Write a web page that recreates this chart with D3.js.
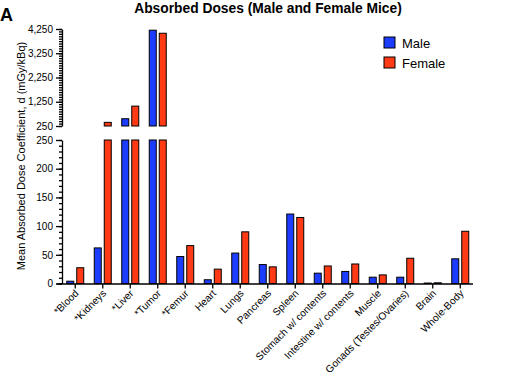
<!DOCTYPE html>
<html>
<head>
<meta charset="utf-8">
<script src="https://cdn.jsdelivr.net/npm/d3@7"></script>
<style>
  body { margin: 0; background: #fff; }
  svg { font-family: "Liberation Sans", Arial, sans-serif; }
</style>
</head>
<body>
<svg id="chart" width="530" height="391"></svg>
<script>
// organs (x categories)
const organs = ["*Blood", "*Kidneys", "*Liver", "*Tumor", "*Femur", "Heart", "Lungs", "Pancreas", "Spleen",
    "Stomach w/ contents", "Intestine w/ contents", "Muscle", "Gonads (Testes/Ovaries)", "Brain", "Whole-Body"];
// mean absorbed dose coefficient, mGy/kBq
const male   = [4, 62, 550, 4200, 47, 6.5, 53, 33, 121, 18, 21, 11, 11, 0.8, 43];
const female = [27.5, 400, 1070, 4075, 66, 25, 90, 29, 115, 30.5, 34, 15, 44, 1.2, 91];
const series = ["Male", "Female"];
const colors = ["#1c3cff", "#ff3a14"];
const lowTicks = [0, 50, 100, 150, 200, 250];
const highTicks = [250, 1250, 2250, 3250, 4250];
const breakAt = 250;

const svg = d3.select("#chart");

const x = d3.scaleBand().domain(organs).range([61.5, 474]);
const yLow = d3.scaleLinear().domain([0, 250]).range([283.5, 140]);
const yHigh = d3.scaleLinear().domain([250, 4250]).range([126, 29]);
const bw = 7;

// bars
const rows = organs.map((o, i) => ({organ: o, vals: [male[i], female[i]]}));
const g = svg.append("g");
rows.forEach(r => {
    r.vals.forEach((v, s) => {
        const cx = x(r.organ) + x.bandwidth() / 2;
        const bx = s === 0 ? cx - 8.5 : cx + 1.5;
        g.append("rect")
            .attr("x", bx).attr("width", bw)
            .attr("y", yLow(Math.min(v, breakAt)))
            .attr("height", yLow(0) - yLow(Math.min(v, breakAt)))
            .attr("fill", colors[s]).attr("stroke", "#000").attr("stroke-width", 1);
        if (v > breakAt) {
            g.append("rect")
                .attr("x", bx).attr("width", bw)
                .attr("y", yHigh(v))
                .attr("height", yHigh(breakAt) - yHigh(v))
                .attr("fill", colors[s]).attr("stroke", "#000").attr("stroke-width", 1);
        }
    });
});

// y axes (minor ticks + major ticks with labels)
function yAxis(scale, majors, minorStep) {
    const ax = svg.append("g").attr("transform", "translate(62,0)");
    const [d0, d1] = scale.domain();
    ax.append("g")
        .call(d3.axisLeft(scale).tickValues(d3.range(d0, d1 + 0.1, minorStep)).tickSize(3).tickFormat(""))
        .call(a => a.select(".domain").remove());
    ax.append("g")
        .call(d3.axisLeft(scale).tickValues(majors).tickSize(6).tickSizeOuter(0).tickPadding(3).tickFormat(d3.format(",")))
        .call(a => a.selectAll("text").attr("font-size", 10).attr("fill", "#000"));
    ax.selectAll("line, path").attr("stroke", "#000").attr("stroke-width", 1.3);
}
yAxis(yLow, lowTicks, 10);
yAxis(yHigh, highTicks, 100);

// x axis
const xa = svg.append("g").attr("transform", "translate(0,283.5)")
    .call(d3.axisBottom(x).tickSize(5).tickSizeOuter(0).tickFormat(""));
xa.selectAll("line, path").attr("stroke", "#000").attr("stroke-width", 1.3);
xa.select(".domain").attr("d", "M56.5,0.5H473");

svg.append("g").selectAll("text").data(organs).join("text")
    .attr("transform", d => `translate(${x(d) + x.bandwidth() / 2 + 4},294) rotate(-45)`)
    .attr("text-anchor", "end").attr("font-size", 10.2).attr("fill", "#000")
    .text(d => d);

// titles
svg.append("text").attr("x", 268).attr("y", 13).attr("text-anchor", "middle")
    .attr("font-size", 13.8).attr("font-weight", "bold").text("Absorbed Doses (Male and Female Mice)");
svg.append("text").attr("x", 0).attr("y", 21).attr("font-size", 18).attr("font-weight", "bold").text("A");
svg.append("text").attr("transform", "translate(25,156) rotate(-90)").attr("text-anchor", "middle")
    .attr("font-size", 11).text("Mean Absorbed Dose Coefficient, d (mGy/kBq)");

// legend
const lg = svg.append("g").attr("transform", "translate(384,37)");
series.forEach((s, i) => {
    lg.append("rect").attr("x", 0).attr("y", i * 20).attr("width", 11).attr("height", 11)
        .attr("fill", colors[i]).attr("stroke", "#000").attr("stroke-width", 1);
    lg.append("text").attr("x", 18).attr("y", i * 20 + 10.5).attr("font-size", 13).text(s);
});
</script>
</body>
</html>
